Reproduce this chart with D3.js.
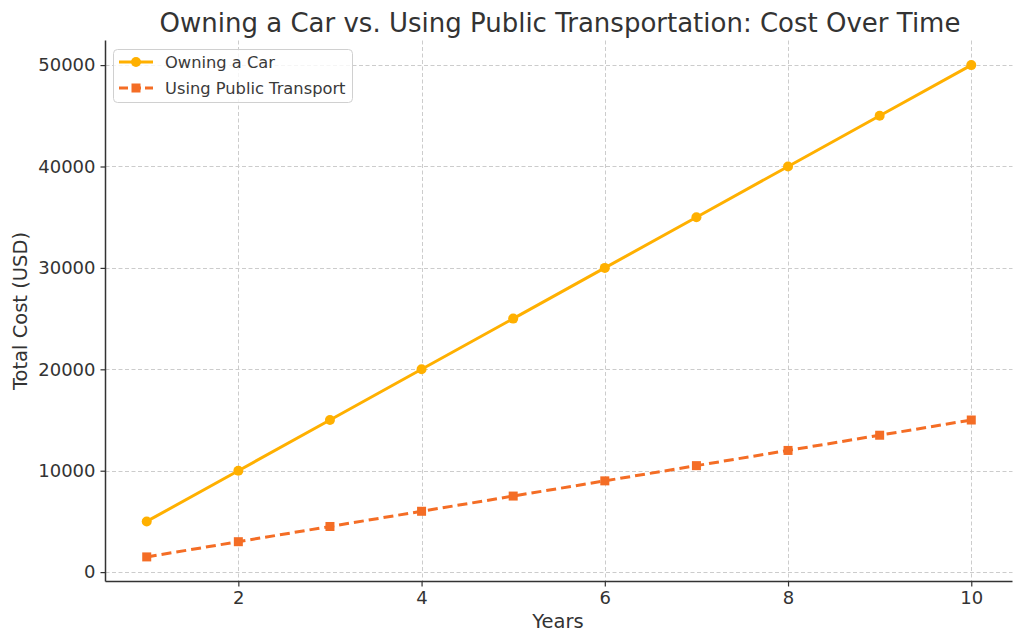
<!DOCTYPE html>
<html><head><meta charset="utf-8">
<script src="https://cdn.jsdelivr.net/npm/d3@7"></script>
<style>body{margin:0;background:#fff}svg{display:block;font-family:"DejaVu Sans",sans-serif}</style>
</head><body><svg id="c" width="1024" height="644"></svg>
<script>
const years = [1,2,3,4,5,6,7,8,9,10];
const carCost = [5000,10000,15000,20000,25000,30000,35000,40000,45000,50000];
const transitCost = [1500,3000,4500,6000,7500,9000,10500,12000,13500,15000];
const xTicks = [2,4,6,8,10];
const yTicks = [0,10000,20000,30000,40000,50000];
const seriesNames = ["Owning a Car","Using Public Transport"];

const svg = d3.select("#c");
const L=105.5, R=1012.5, T=40.5, B=581.5;
const x = d3.scaleLinear().domain([0.55,10.45]).range([L,R]);
const y = d3.scaleLinear().domain([-925,52425]).range([B,T]);
const ink="#333";

// grid
const g = svg.append("g");
g.selectAll(".gx").data(xTicks).join("line").attr("x1",d=>Math.round(x(d))+0.5).attr("x2",d=>Math.round(x(d))+0.5)
 .attr("y1",T).attr("y2",B).attr("stroke","#cccccc").attr("stroke-width",1).attr("stroke-dasharray","4,2.5");
g.selectAll(".gy").data(yTicks).join("line").attr("y1",d=>Math.round(y(d))+0.5).attr("y2",d=>Math.round(y(d))+0.5)
 .attr("x1",L).attr("x2",R).attr("stroke","#cccccc").attr("stroke-width",1).attr("stroke-dasharray","4,2.5");

// axes
const xAxis = svg.append("g").attr("transform",`translate(0,${B})`)
 .call(d3.axisBottom(x).tickValues(xTicks).tickSize(5).tickPadding(5).tickFormat(d3.format("d")));
const yAxis = svg.append("g").attr("transform",`translate(${L},0)`)
 .call(d3.axisLeft(y).tickValues(yTicks).tickSize(5).tickPadding(5).tickFormat(d3.format("d")));
[xAxis,yAxis].forEach(a=>{
  a.select(".domain").remove();
  a.selectAll("line").attr("stroke",ink).attr("stroke-width",1.2);
  a.selectAll("text").attr("fill",ink).style("font-size","18px").style("font-family","DejaVu Sans");
});
svg.append("line").attr("x1",L).attr("x2",L).attr("y1",T).attr("y2",B).attr("stroke",ink).attr("stroke-width",1.5);
svg.append("line").attr("x1",L).attr("x2",R).attr("y1",B).attr("y2",B).attr("stroke",ink).attr("stroke-width",1.5);

// lines
const carColor="#FFB000", trColor="#F46D25";
const line = d3.line().x((d,i)=>x(years[i])).y(d=>y(d));
svg.append("path").datum(carCost).attr("d",line).attr("fill","none").attr("stroke",carColor).attr("stroke-width",3);
svg.selectAll(".cm").data(carCost).join("circle").attr("cx",(d,i)=>x(years[i])).attr("cy",d=>y(d)).attr("r",5).attr("fill",carColor);
svg.append("path").datum(transitCost).attr("d",line).attr("fill","none").attr("stroke",trColor).attr("stroke-width",3).attr("stroke-dasharray","10,5");
svg.selectAll(".tm").data(transitCost).join("rect").attr("x",(d,i)=>x(years[i])-4.5).attr("y",d=>y(d)-4.5).attr("width",9).attr("height",9).attr("fill",trColor);

// title & labels
svg.append("text").attr("x",(L+R)/2+1).attr("y",32).attr("text-anchor","middle").attr("fill",ink)
 .style("font-size","26px").text("Owning a Car vs. Using Public Transportation: Cost Over Time");
svg.append("text").attr("x",(L+R)/2-1).attr("y",628).attr("text-anchor","middle").attr("fill",ink)
 .style("font-size","19.5px").text("Years");
svg.append("text").attr("transform",`translate(27,${(T+B)/2}) rotate(-90)`).attr("text-anchor","middle").attr("fill",ink)
 .style("font-size","19.5px").text("Total Cost (USD)");

// legend
const lg = svg.append("g");
lg.append("rect").attr("x",113.5).attr("y",49.5).attr("width",239).attr("height",53).attr("rx",4)
 .attr("fill","#fff").attr("fill-opacity",0.8).attr("stroke","#d0d0d0");
const items=[{n:seriesNames[0],c:carColor,m:"circle",dash:null},{n:seriesNames[1],c:trColor,m:"square",dash:"9,4"}];
items.forEach((it,i)=>{
  const yy = 62+i*26;
  lg.append("line").attr("x1",119).attr("x2",153).attr("y1",yy).attr("y2",yy).attr("stroke",it.c).attr("stroke-width",3).attr("stroke-dasharray",it.dash);
  if(it.m==="circle") lg.append("circle").attr("cx",136).attr("cy",yy).attr("r",5).attr("fill",it.c);
  else lg.append("rect").attr("x",131.5).attr("y",yy-4.5).attr("width",9).attr("height",9).attr("fill",it.c);
  lg.append("text").attr("x",165).attr("y",yy+5.5).attr("fill","#3a3a3a").style("font-size","16.3px").text(it.n);
});
</script></body></html>
